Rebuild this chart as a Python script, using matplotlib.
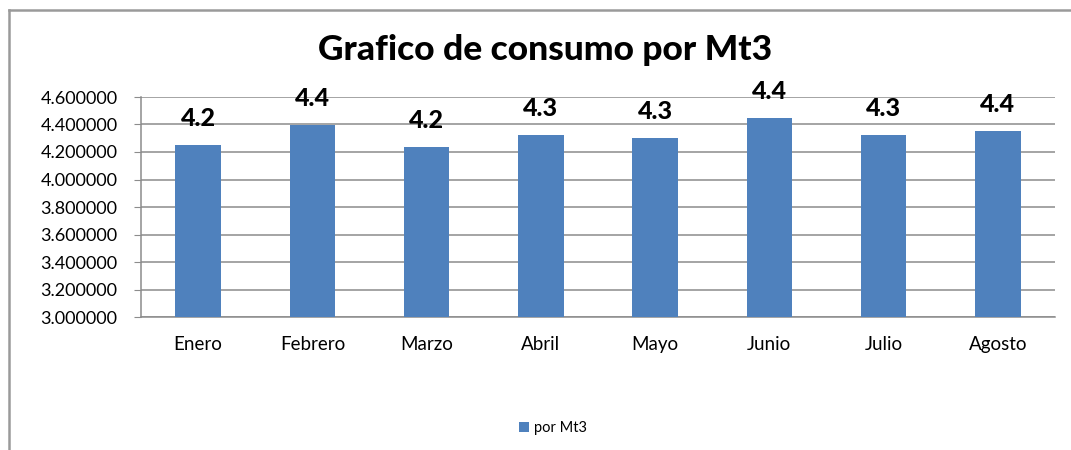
import matplotlib.pyplot as plt
from matplotlib.lines import Line2D
from matplotlib.ticker import FuncFormatter

# data
meses = ['Enero', 'Febrero', 'Marzo', 'Abril', 'Mayo', 'Junio', 'Julio', 'Agosto']
por_mt3 = [4.249, 4.395, 4.235, 4.325, 4.303, 4.444, 4.322, 4.355]
y_ticks = [3.0, 3.2, 3.4, 3.6, 3.8, 4.0, 4.2, 4.4, 4.6]

plt.rcParams['font.family'] = ['Lato', 'DejaVu Sans']
W, H = 1071, 450
fig = plt.figure(figsize=(W / 100, H / 100), dpi=100)

# outer chart border (only top and left visible in the crop)
fig.add_artist(Line2D([9 / W, 9 / W], [0, 1 - 10 / H], color='#9a9a9a', lw=1.8,
                      transform=fig.transFigure))
fig.add_artist(Line2D([9 / W, 1], [1 - 10 / H, 1 - 10 / H], color='#9a9a9a', lw=1.8,
                      transform=fig.transFigure))

left, right, top, bottom = 141, 1055, 97, 317
ax = fig.add_axes([left / W, 1 - bottom / H, (right - left) / W, (bottom - top) / H])

x = range(len(meses))
bars = ax.bar(x, por_mt3, width=0.40, color='#4F81BD', zorder=3, label='por Mt3')

ax.set_ylim(3.0, 4.6)
ax.set_xlim(-0.5, len(meses) - 0.5)
ax.set_yticks(y_ticks)
ax.yaxis.set_major_formatter(FuncFormatter(lambda v, p: '%.6f' % v))
ax.set_xticks(list(x))
ax.set_xticklabels(meses)
ax.grid(axis='y', color='#8c8c8c', lw=1.1, zorder=0)

for s in ['top', 'right']:
    ax.spines[s].set_visible(False)
for s in ['left', 'bottom']:
    ax.spines[s].set_color('#8c8c8c')
    ax.spines[s].set_linewidth(1.1)

ax.tick_params(axis='y', length=5, color='#8c8c8c', labelsize=13, pad=12)
ax.tick_params(axis='x', length=0, labelsize=13.5, pad=14)

for b, v in zip(bars, por_mt3):
    ax.text(b.get_x() + b.get_width() / 2, v + 0.11, '%.1f' % v, ha='center', va='bottom',
            fontsize=18, fontweight='black', zorder=4)

fig.text(545 / W, 1 - 50 / H, 'Grafico de consumo por Mt3', ha='center', va='center',
         fontsize=25.5, fontweight='black')

fig.legend(handles=[bars], labels=['por Mt3'], loc='center', bbox_to_anchor=(553 / W, 1 - 428 / H),
           frameon=False, fontsize=10.5, handlelength=0.7, handleheight=0.7, handletextpad=0.3)

fig.savefig('out.png', dpi=100)
